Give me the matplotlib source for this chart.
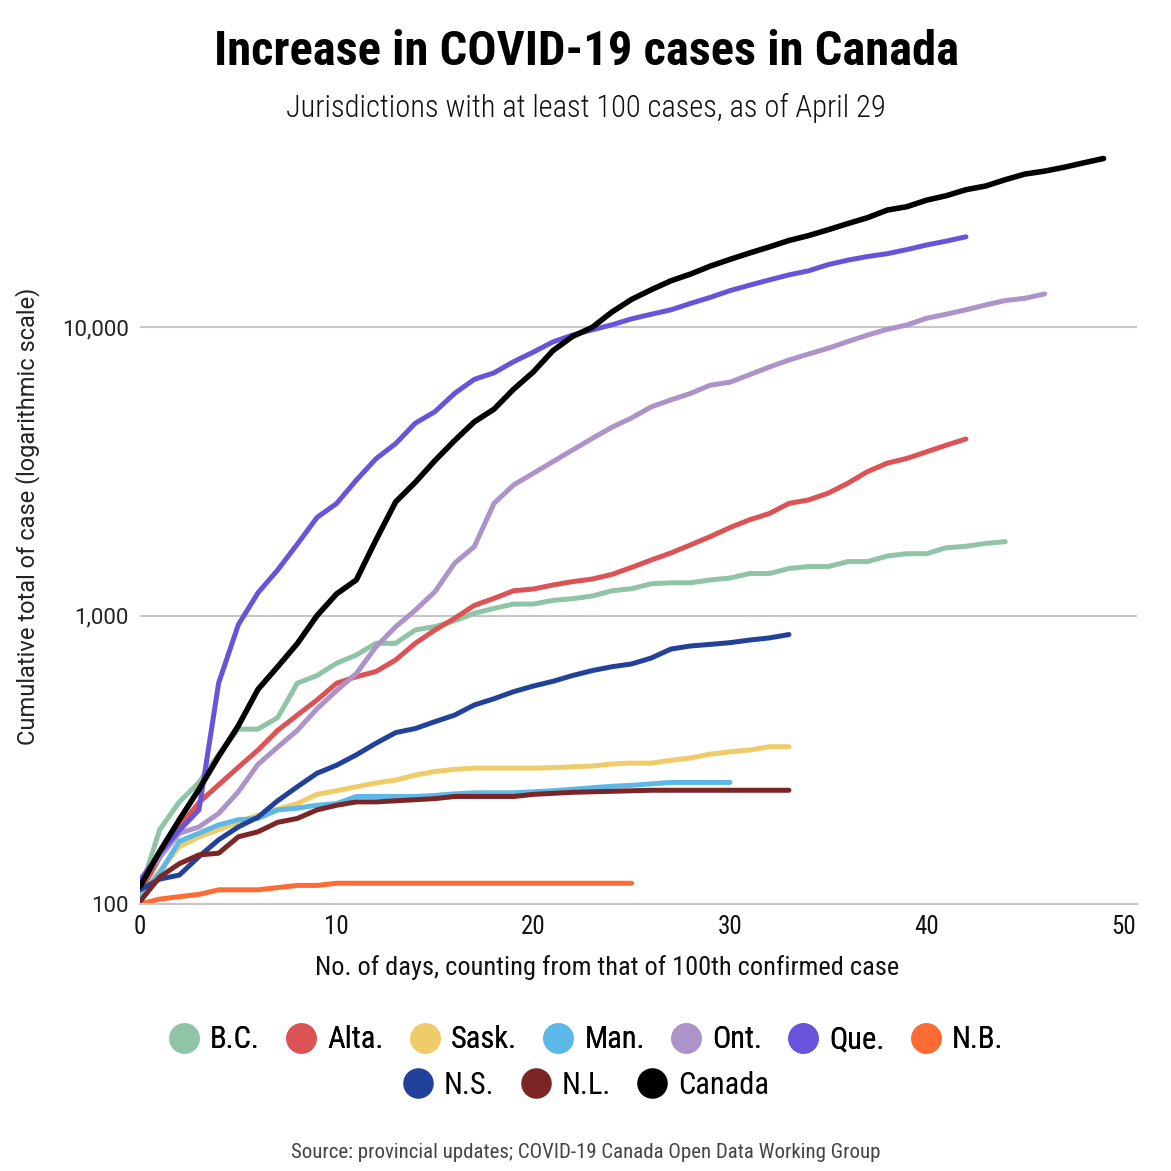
import matplotlib
matplotlib.use('Agg')
import matplotlib.pyplot as plt
from matplotlib.lines import Line2D
from matplotlib.ticker import FixedLocator, FuncFormatter, NullLocator

# 字体：窄体用于标题/图例/x 轴，Roboto 用于 y 轴
NARROW = ['Roboto Condensed', 'Barlow Semi Condensed', 'DejaVu Sans']
REGULAR = ['Roboto', 'DejaVu Sans']

names = ['B.C.', 'Alta.', 'Sask.', 'Man.', 'Ont.', 'Que.', 'N.B.', 'N.S.', 'N.L.', 'Canada']
colors = ['#8fc4a6', '#dc5356', '#f0cb69', '#5cb8e6', '#ad93c9',
          '#6a53db', '#ff6b35', '#22419a', '#7c2527', '#000000']

# 每日累计病例（第 0 天为第 100 例当天）
bc = [110, 181, 226, 264, 330, 404, 404, 443, 583, 620,
      684, 730, 802, 802, 892, 916, 960, 1019, 1060, 1097,
      1097, 1130, 1145, 1170, 1220, 1240, 1290, 1300, 1300, 1330,
      1350, 1400, 1400, 1457, 1480, 1480, 1540, 1540, 1610, 1640,
      1640, 1720, 1740, 1780, 1806]
alta = [110, 145, 185, 225, 259, 298, 342, 400, 452, 510,
        583, 614, 640, 702, 802, 892, 979, 1085, 1148, 1220,
        1237, 1277, 1312, 1340, 1390, 1470, 1560, 1650, 1760, 1880,
        2020, 2150, 2260, 2450, 2520, 2660, 2880, 3160, 3380, 3510,
        3700, 3900, 4100]
sask = [106, 130, 158, 171, 181, 192, 203, 213, 223, 240,
        247, 255, 263, 269, 280, 288, 293, 296, 296, 296,
        296, 297, 299, 301, 306, 308, 308, 315, 321, 331,
        337, 342, 351, 351]
man = [105, 128, 165, 176, 188, 196, 198, 212, 215, 220,
       223, 236, 236, 236, 236, 238, 241, 243, 243, 243,
       245, 247, 250, 253, 256, 258, 261, 264, 264, 264,
       264]
ont = [120, 145, 176, 185, 206, 245, 305, 350, 400, 475,
       550, 630, 780, 915, 1045, 1211, 1520, 1735, 2450, 2840,
       3116, 3420, 3755, 4120, 4500, 4850, 5300, 5600, 5900, 6300,
       6450, 6850, 7280, 7700, 8080, 8460, 8930, 9400, 9840, 10190,
       10750, 11100, 11500, 11950, 12380, 12610, 13050]
que = [121, 150, 180, 212, 584, 930, 1200, 1440, 1770, 2190,
       2450, 2950, 3500, 3950, 4650, 5100, 5900, 6600, 6950, 7600,
       8200, 8900, 9400, 9800, 10200, 10700, 11100, 11500, 12100, 12700,
       13400, 14000, 14600, 15200, 15700, 16500, 17100, 17600, 18000, 18600,
       19300, 19900, 20600]
nb = [100, 104, 106, 108, 112, 112, 112, 114, 116, 116,
      118, 118, 118, 118, 118, 118, 118, 118, 118, 118,
      118, 118, 118, 118, 118, 118]
ns = [112, 122, 126, 146, 167, 185, 200, 228, 255, 284,
      303, 329, 361, 393, 406, 429, 452, 490, 515, 545,
      570, 592, 620, 645, 665, 680, 713, 766, 785, 795,
      806, 823, 837, 860]
nl = [102, 124, 138, 148, 150, 171, 178, 192, 198, 212,
      220, 226, 226, 228, 230, 232, 236, 236, 236, 236,
      240, 242, 244, 245, 246, 247, 248, 248, 248, 248,
      248, 248, 248, 248]
canada = [115, 152, 196, 250, 325, 415, 555, 665, 800, 1000,
          1190, 1330, 1830, 2480, 2900, 3450, 4050, 4700, 5200, 6100,
          7000, 8300, 9300, 10000, 11300, 12500, 13500, 14500, 15300, 16300,
          17200, 18100, 19000, 20000, 20800, 21800, 22900, 24000, 25500, 26200,
          27600, 28600, 30000, 30900, 32500, 34000, 34800, 35900, 37200, 38500]

series = [bc, alta, sask, man, ont, que, nb, ns, nl, canada]

W = H = 1171
fig = plt.figure(figsize=(W / 100, H / 100), dpi=100)
ax = fig.add_axes([140 / W, 1 - 904 / H, (1137 - 140) / W, (904 - 150) / H])

for name, col, vals in zip(names, colors, series):
    lw = 4.0 if name == 'Canada' else 3.6
    ax.plot(range(len(vals)), vals, color=col, lw=lw, solid_capstyle='round',
            solid_joinstyle='round', label=name)

ax.set_yscale('log')
ax.set_ylim(100, 41200)
ax.set_xlim(0, 50.7)
ax.yaxis.set_major_locator(FixedLocator([100, 1000, 10000]))
ax.yaxis.set_minor_locator(NullLocator())
ax.yaxis.set_major_formatter(FuncFormatter(lambda v, p: f'{v:,.0f}'))
ax.set_xticks([0, 10, 20, 30, 40, 50])
ax.yaxis.grid(True, color='#c6c6c6', lw=1.5)
ax.set_axisbelow(True)
for s in ['top', 'right', 'left']:
    ax.spines[s].set_visible(False)
ax.spines['bottom'].set_color('#c6c6c6')
ax.spines['bottom'].set_linewidth(1.5)
ax.tick_params(length=0)
ax.tick_params(axis='y', pad=8, labelsize=16, labelcolor='#222222')
ax.tick_params(axis='x', pad=8, labelsize=18, labelcolor='#111111')
for lab in ax.get_yticklabels():
    lab.set_family(REGULAR)
for lab in ax.get_xticklabels():
    lab.set_family(NARROW)

fig.text(28 / W, 1 - 516 / H, 'Cumulative total of case (logarithmic scale)',
         rotation=90, ha='center', va='center', fontsize=17, family=REGULAR,
         color='#222222')
fig.text(607 / W, 1 - 968 / H, 'No. of days, counting from that of 100th confirmed case',
         ha='center', va='center', fontsize=19, family=NARROW, color='#111111')

fig.text(586 / W, 1 - 52 / H, 'Increase in COVID-19 cases in Canada',
         ha='center', va='center', fontsize=35, fontweight='bold', family=NARROW)
fig.text(586 / W, 1 - 108 / H, 'Jurisdictions with at least 100 cases, as of April 29',
         ha='center', va='center', fontsize=22, fontweight='light', family=NARROW,
         color='#111111')
fig.text(586 / W, 1 - 1152 / H,
         'Source: provincial updates; COVID-19 Canada Open Data Working Group',
         ha='center', va='center', fontsize=15, family=NARROW, color='#444444')

# 图例：两行居中
handles = [Line2D([], [], ls='', marker='o', markersize=22, color=c,
                  markeredgewidth=0) for c in colors]
leg_kw = dict(loc='center', frameon=False, prop={'family': NARROW, 'size': 22},
              handlelength=1.0, handletextpad=0.35, columnspacing=0.85,
              borderpad=0)
leg1 = fig.legend(handles[:7], names[:7], ncol=7,
                  bbox_to_anchor=(586 / W, 1 - 1040 / H), **leg_kw)
fig.add_artist(leg1)
fig.legend(handles[7:], names[7:], ncol=3,
           bbox_to_anchor=(586 / W, 1 - 1085 / H), **leg_kw)

fig.savefig('out.png', dpi=100)
